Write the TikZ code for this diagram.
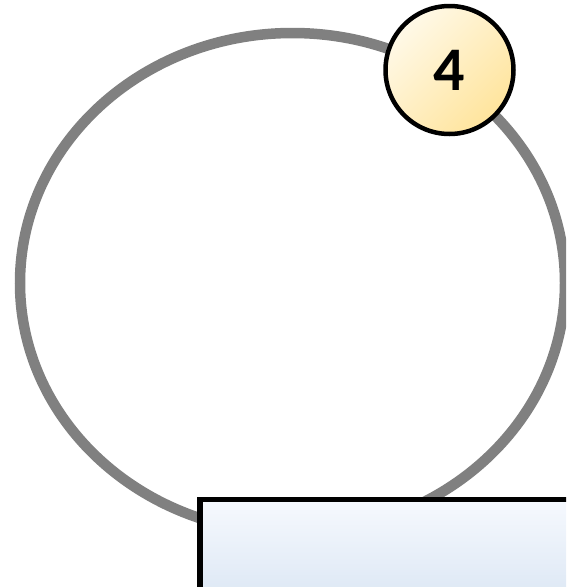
\documentclass[tikz,border=0pt]{standalone}
\usepackage{fontspec}
\setmainfont{Carlito}
\definecolor{ringgray}{HTML}{808080}
\definecolor{ylight}{HTML}{FFF9E8}
\definecolor{ydark}{HTML}{FFE49C}
\definecolor{blight}{HTML}{F6F9FE}
\definecolor{bdark}{HTML}{DCE7F4}
\tikzset{
  ring/.style={draw=ringgray, line width=10.5pt},
  badge/.style={circle, draw=black, line width=4.5pt, minimum size=128pt, inner sep=0pt,
    top color=ylight, bottom color=ydark, shading angle=45,
    font=\fontsize{62}{62}\selectfont\bfseries},
  panel/.style={draw=black, line width=5.5pt, top color=blight, bottom color=bdark}
}
\begin{document}
\begin{tikzpicture}[x=1pt,y=-1pt]
\useasboundingbox (0,0) rectangle (566,587);
\clip (0,0) rectangle (566,587);
\fill[white] (0,0) rectangle (566,587);
\node[draw=none, inner sep=0pt] (center) at (292.5,283) {};
\draw[ring] (center) ellipse [x radius=272.5pt, y radius=250pt];
\node[badge] (num) at (449.5,70) {4};
\path[panel] (200,499.5) rectangle (590,600);
\node[inner sep=0pt] (box) at (395,545) {};
\end{tikzpicture}
\end{document}
